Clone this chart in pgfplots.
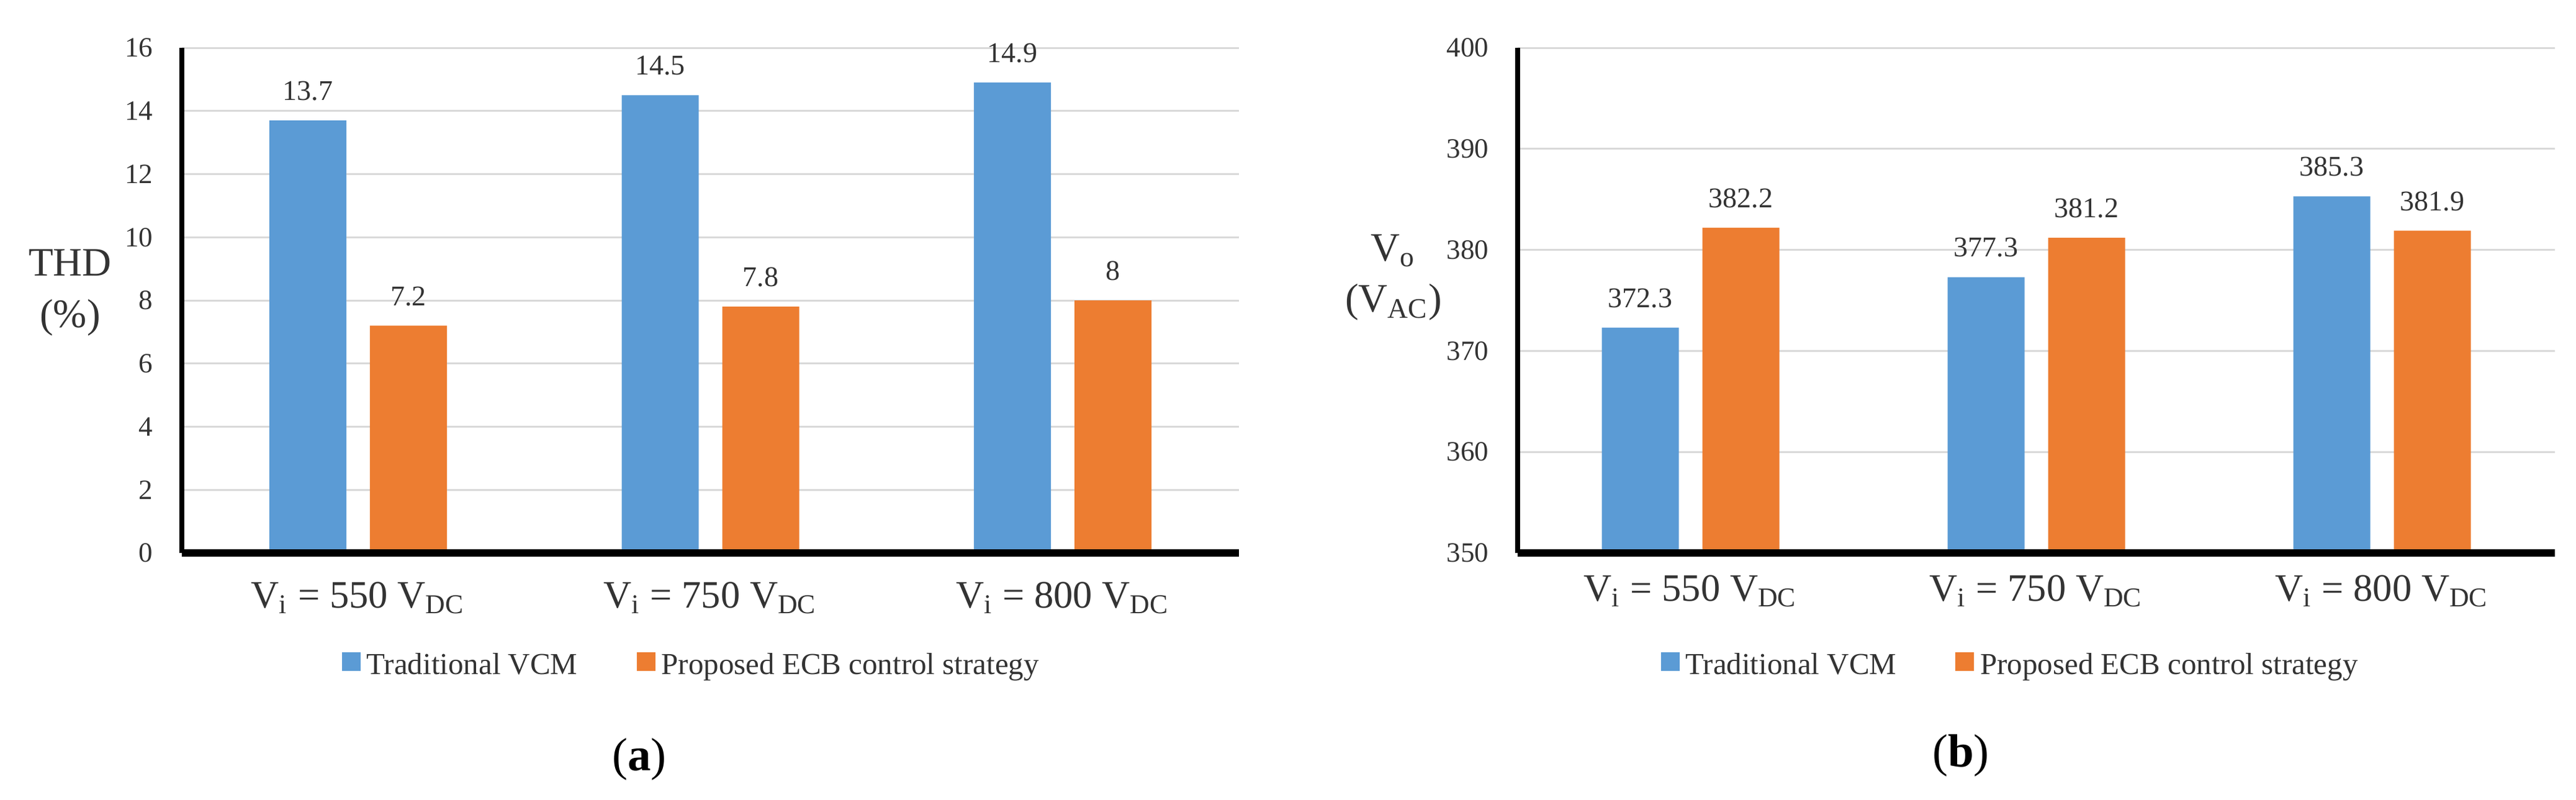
\documentclass[border=0pt]{standalone}
\usepackage{fontspec}
\setmainfont{Liberation Serif}
\usepackage{pgfplots}
\pgfplotsset{compat=1.18}

\definecolor{vcm}{HTML}{5B9BD5}
\definecolor{ecb}{HTML}{ED7D31}
\definecolor{gridc}{HTML}{D9D9D9}
\definecolor{txt}{HTML}{333333}

% grid below the bars, axis lines above them
\pgfplotsset{
  layers/barsmid/.define layer set={
    axis background,axis grid,main,axis ticks,axis lines,axis tick labels,axis descriptions,axis foreground
  }{
    grid style={/pgfplots/on layer=axis grid},
    tick style={/pgfplots/on layer=axis ticks},
    axis line style={/pgfplots/on layer=axis lines},
    label style={/pgfplots/on layer=axis descriptions},
    legend style={/pgfplots/on layer=axis descriptions},
    ticklabel style={/pgfplots/on layer=axis tick labels},
  },
  panel/.style={
    set layers=barsmid,
    scale only axis,
    height=162.8pt,
    xmin=-0.5, xmax=2.5,
    xtick={0,1,2},
    xticklabels={V\textsubscript{i} = 550 V\textsubscript{DC},
                 V\textsubscript{i} = 750 V\textsubscript{DC},
                 V\textsubscript{i} = 800 V\textsubscript{DC}},
    axis lines*=left,
    axis line style={-},
    x axis line style={line width=2.4pt},
    y axis line style={line width=1.6pt},
    ymajorgrids,
    grid style={gridc, line width=0.6pt},
    major tick length=0pt,
    tick style={draw=none},
    /pgf/number format/assume math mode=true,
    yticklabel style={font=\fontsize{9}{10}\selectfont, text=txt, inner sep=0pt, xshift=-9.2pt},
    xticklabel style={font=\fontsize{12.5}{14}\selectfont, text=txt, anchor=base, inner sep=0pt},
    every axis y label/.style={anchor=center, align=center, text=txt,
      font=\fontsize{13}{16.5}\selectfont},
    ybar=7.6pt,
    bar width=24.8pt,
    nodes near coords,
    every node near coord/.append style={font=\fontsize{9.2}{10}\selectfont,
      text=txt, inner sep=0pt, yshift=6.2pt},
    legend columns=2,
    legend style={draw=none, fill=none, anchor=center, text=txt,
      font=\fontsize{9.8}{12}\selectfont,
      /tikz/every even column/.append style={column sep=17pt}},
    legend image code/.code={\fill[##1] (0pt,-1.5pt) rectangle (6pt,4.5pt);},
  },
}

\begin{document}
\begin{tikzpicture}

\begin{axis}[panel,
  at={(58.6pt,79.4pt)}, anchor=south west,
  width=340.6pt,
  ymin=0, ymax=16, ytick={0,2,...,16},
  xticklabel style={yshift=-17.6pt},
  ylabel={THD\\(\%)},
  every axis y label/.append style={at={(axis description cs:-0.1057,0.515)}},
  legend style={at={(0.484,-0.224)}},
]
\addplot[fill=vcm, draw=none] coordinates {(0,13.7) (1,14.5) (2,14.9)};
\addlegendentry{Traditional VCM}
\addplot[fill=ecb, draw=none] coordinates {(0,7.2) (1,7.8) (2,8)};
\addlegendentry{Proposed ECB control strategy}
\end{axis}

\begin{axis}[panel,
  at={(489pt,79.4pt)}, anchor=south west,
  width=334.2pt,
  ymin=350, ymax=400, ytick={350,360,...,400},
  xticklabel style={yshift=-15.4pt},
  ylabel={V\textsubscript{o}\\(V\textsubscript{AC})},
  every axis y label/.append style={at={(axis description cs:-0.1197,0.545)}},
  legend style={at={(0.477,-0.224)}},
]
\addplot[fill=vcm, draw=none] coordinates {(0,372.3) (1,377.3) (2,385.3)};
\addlegendentry{Traditional VCM}
\addplot[fill=ecb, draw=none] coordinates {(0,382.2) (1,381.2) (2,381.9)};
\addlegendentry{Proposed ECB control strategy}
\end{axis}

\node[font=\fontsize{15}{18}\selectfont, text=black] at (206pt,13pt) {(\textbf{a})};
\node[font=\fontsize{15}{18}\selectfont, text=black] at (631.8pt,14.2pt) {(\textbf{b})};

\pgfresetboundingbox
\path[use as bounding box] (0,0) rectangle (830pt,257.6pt);
\end{tikzpicture}
\end{document}
